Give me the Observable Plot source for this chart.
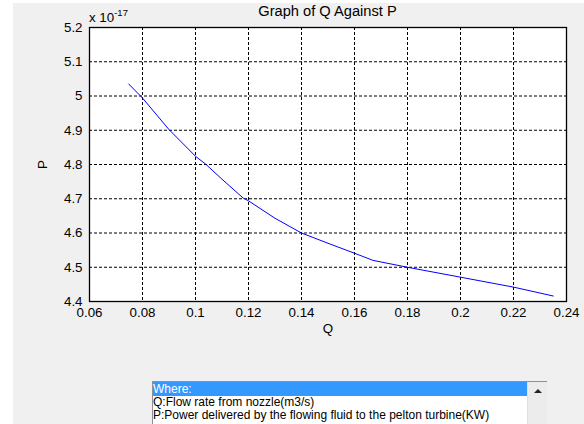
<!DOCTYPE html>
<html>
<head>
<meta charset="utf-8">
<script src="https://cdn.jsdelivr.net/npm/d3@7"></script>
<script src="https://cdn.jsdelivr.net/npm/@observablehq/plot@0.6"></script>
<style>
  html, body { margin: 0; padding: 0; background: #ffffff; }
  body { width: 584px; height: 424px; position: relative; overflow: hidden; font-family: "Liberation Sans", Arial, sans-serif; }
  #bg { position: absolute; left: 13px; top: 3px; width: 571px; height: 421px; background: #f0f0f0; }
  #chart { position: absolute; left: 0; top: 0; }
  #title { position: absolute; left: 89px; width: 477px; top: 3px; text-align: center; font-size: 14.67px; color: #000; white-space: nowrap; }
  #expo { position: absolute; left: 89px; top: 8px; font-size: 13.33px; color: #000; white-space: nowrap; }
  #expo sup { font-size: 9.5px; position: relative; top: -1px; }
  #list { position: absolute; left: 152px; top: 381px; width: 393px; height: 60px; background: #fff; border: 1px solid #8e9096; font-size: 12px; color: #000; }
  #list .row { height: 13px; line-height: 13px; white-space: nowrap; }
  #list .sel { background: #3399ff; color: #fff; width: 374px; height: 14px; line-height: 14px; }
  #scroll { position: absolute; left: 374px; top: 0; width: 19px; height: 60px; background: #ececec; border-left: 1px solid #e0e0e0; }
  #arrow { position: absolute; left: 6px; top: 7px; width: 0; height: 0; border-left: 4px solid transparent; border-right: 4px solid transparent; border-bottom: 4px solid #222; }
</style>
</head>
<body>
<div id="bg"></div>
<div id="chart"></div>
<div id="title"></div>
<div id="expo"></div>
<div id="list"></div>
<script>
// ---- data ----
const Q = [0.0748, 0.080, 0.090, 0.100, 0.104, 0.110, 0.118, 0.120, 0.130, 0.140, 0.150, 0.160, 0.167, 0.180, 0.200, 0.220, 0.235];
const P = [5.035, 4.994, 4.902, 4.824, 4.800, 4.757, 4.702, 4.694, 4.643, 4.600, 4.570, 4.541, 4.520, 4.500, 4.471, 4.442, 4.416];
const xTicks = [0.06, 0.08, 0.1, 0.12, 0.14, 0.16, 0.18, 0.2, 0.22, 0.24];
const yTicks = [4.4, 4.5, 4.6, 4.7, 4.8, 4.9, 5.0, 5.1, 5.2];
const titleText = "Graph of Q Against P";
const exponentBase = "x 10";
const exponentPow = "-17";
const xLabel = "Q";
const yLabel = "P";
const legendRows = ["Where:", "Q:Flow rate from nozzle(m3/s)", "P:Power delivered by the flowing fluid to the pelton turbine(KW)"];

const data = Q.map((q, i) => ({q, p: P[i]}));
const fmt = d => String(+d.toFixed(2));

const plot = Plot.plot({
  width: 584,
  height: 370,
  marginLeft: 89,
  marginRight: 18,
  marginTop: 27,
  marginBottom: 69,
  style: {background: "transparent", color: "#000", fontFamily: "Liberation Sans, Arial, sans-serif", fontSize: "13.33px", overflow: "visible"},
  x: {domain: [0.06, 0.24], ticks: xTicks},
  y: {domain: [4.4, 5.2], ticks: yTicks},
  marks: [
    Plot.frame({fill: "white", stroke: "none"}),
    Plot.gridX(xTicks.slice(1, -1), {stroke: "#000", strokeOpacity: 1, strokeWidth: 1, strokeDasharray: "3,2"}),
    Plot.gridY(yTicks.slice(1, -1), {stroke: "#000", strokeOpacity: 1, strokeWidth: 1, strokeDasharray: "3,2"}),
    Plot.line(data, {x: "q", y: "p", stroke: "#0000ff", strokeWidth: 1}),
    Plot.axisX(xTicks, {anchor: "bottom", tickSize: 0, tickPadding: 6, tickFormat: fmt, label: xLabel, labelAnchor: "center", labelArrow: "none", labelOffset: 31, fontSize: 13.33}),
    Plot.axisY(yTicks, {anchor: "left", tickSize: 0, tickPadding: 7, tickFormat: fmt, label: yLabel, labelAnchor: "center", labelArrow: "none", labelOffset: 52, fontSize: 13.33}),
    Plot.frame({stroke: "#000", strokeWidth: 1.3})
  ]
});
document.getElementById("chart").appendChild(plot);

document.getElementById("title").textContent = titleText;
const ex = document.getElementById("expo");
ex.textContent = exponentBase;
const sup = document.createElement("sup");
sup.textContent = exponentPow;
ex.appendChild(sup);

const list = document.getElementById("list");
legendRows.forEach((t, i) => {
  const r = document.createElement("div");
  r.className = "row" + (i === 0 ? " sel" : "");
  r.textContent = t;
  list.appendChild(r);
});
const sc = document.createElement("div");
sc.id = "scroll";
const ar = document.createElement("div");
ar.id = "arrow";
sc.appendChild(ar);
list.appendChild(sc);
</script>
</body>
</html>
